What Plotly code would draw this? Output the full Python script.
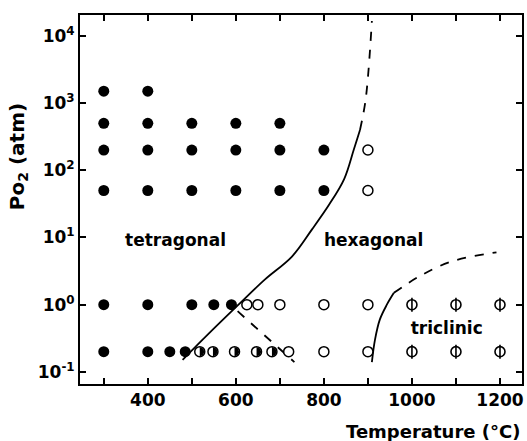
import math
import plotly.graph_objects as go

# ---- data ----
filled_T = [300, 300, 300, 300, 300, 300,
            400, 400, 400, 400, 400, 400,
            500, 500, 500, 500,
            600, 600, 600,
            700, 700, 700,
            800, 800,
            550, 590,
            450, 485]
filled_P = [1500, 500, 200, 50, 1, 0.2,
            1500, 500, 200, 50, 1, 0.2,
            500, 200, 50, 1,
            500, 200, 50,
            500, 200, 50,
            200, 50,
            1, 1,
            0.2, 0.2]

open_T = [900, 900, 625, 650, 700, 800, 900, 720, 800, 900]
open_P = [200, 50, 1, 1, 1, 1, 1, 0.2, 0.2, 0.2]

half_T = [518, 548, 597, 647, 682]
half_P = [0.2, 0.2, 0.2, 0.2, 0.2]

phi_T = [1000, 1100, 1200, 1000, 1100, 1200]
phi_P = [1, 1, 1, 0.2, 0.2, 0.2]

# boundary tetragonal/hexagonal (solid)
b1_T = [479, 540, 606, 665, 728, 773, 812, 846, 868, 882]
b1_P = [0.151, 0.38, 1.0, 2.34, 5.25, 13.2, 30.9, 74, 204, 398]
# its dashed continuation
b1d_T = [882, 895, 909]
b1d_P = [398, 1150, 16600]
# dashed tetragonal boundary going down
b2_T = [604, 733]
b2_P = [0.8, 0.14]
# triclinic boundary solid
b3_T = [909, 916, 927, 943, 959]
b3_P = [0.14, 0.30, 0.60, 1.0, 1.5]
# triclinic dashed
b3d_T = [959, 1015, 1090, 1192]
b3d_P = [1.5, 2.6, 4.4, 6.0]

labels = ["tetragonal", "hexagonal", "triclinic"]
label_T = [463, 913, 1079]
label_P = [8.5, 8.7, 0.43]

x_ticks = [300, 400, 500, 600, 700, 800, 900, 1000, 1100, 1200]
x_ticktext = ["", "400", "", "600", "", "800", "", "1000", "", "1200"]
y_ticks = [0.1, 1, 10, 100, 1000, 10000]
y_ticktext = ["10<sup>-1</sup>", "10<sup>0</sup>", "10<sup>1</sup>",
              "10<sup>2</sup>", "10<sup>3</sup>", "10<sup>4</sup>"]

FONT = "DejaVu Sans"
W, H = 527, 441
M = dict(l=80, r=3, t=15, b=57)
X_RANGE = [246, 1250]
Y_RANGE = [-1.18, 4.31]

fig = go.Figure()

fig.add_trace(go.Scatter(x=b1_T, y=b1_P, mode="lines", line=dict(color="black", width=1.8, shape="spline")))
fig.add_trace(go.Scatter(x=b1d_T, y=b1d_P, mode="lines", line=dict(color="black", width=1.8, dash="dash", shape="spline")))
fig.add_trace(go.Scatter(x=b2_T, y=b2_P, mode="lines", line=dict(color="black", width=1.8, dash="dash")))
fig.add_trace(go.Scatter(x=b3_T, y=b3_P, mode="lines", line=dict(color="black", width=1.8, shape="spline")))
fig.add_trace(go.Scatter(x=b3d_T, y=b3d_P, mode="lines", line=dict(color="black", width=1.8, dash="dash", shape="spline")))

fig.add_trace(go.Scatter(x=filled_T, y=filled_P, mode="markers",
                         marker=dict(symbol="circle", size=11, color="black")))
fig.add_trace(go.Scatter(x=open_T, y=open_P, mode="markers",
                         marker=dict(symbol="circle", size=10, color="white", line=dict(width=1.5, color="black"))))
fig.add_trace(go.Scatter(x=phi_T, y=phi_P, mode="markers",
                         marker=dict(symbol="circle", size=10, color="white", line=dict(width=1.6, color="black"))))
fig.add_trace(go.Scatter(x=phi_T, y=phi_P, mode="markers",
                         marker=dict(symbol="line-ns-open", size=10, color="black", line=dict(width=1.6))))
fig.add_trace(go.Scatter(x=half_T, y=half_P, mode="markers",
                         marker=dict(symbol="circle", size=10, color="white", line=dict(width=1.5, color="black"))))

# right-half filled semicircles around each half marker (radius given in pixels)
px_per_T = (W - M["l"] - M["r"]) / (X_RANGE[1] - X_RANGE[0])
px_per_dec = (H - M["t"] - M["b"]) / (Y_RANGE[1] - Y_RANGE[0])
r_px = 4.6
hx, hy = [], []
for t, p in zip(half_T, half_P):
    for i in range(21):
        a = -math.pi / 2 + math.pi * i / 20
        hx.append(t + r_px * math.cos(a) / px_per_T)
        hy.append(10 ** (math.log10(p) + r_px * math.sin(a) / px_per_dec))
    hx.append(None)
    hy.append(None)
fig.add_trace(go.Scatter(x=hx, y=hy, mode="lines", fill="toself", fillcolor="black",
                         line=dict(width=0, color="black"), hoverinfo="skip"))

fig.add_trace(go.Scatter(x=label_T, y=label_P, mode="text", text=labels,
                         textposition="middle center",
                         textfont=dict(family=FONT, size=17, color="black", weight="bold")))

axis_common = dict(showline=True, linewidth=2, linecolor="black", mirror="ticks",
                   ticks="inside", ticklen=6, tickwidth=1.5, tickcolor="black",
                   showgrid=False, zeroline=False,
                   tickfont=dict(family=FONT, size=17, color="black", weight="bold"))

fig.update_xaxes(range=X_RANGE, tickvals=x_ticks, ticktext=x_ticktext, **axis_common)
fig.update_yaxes(type="log", range=Y_RANGE, tickvals=y_ticks, ticktext=y_ticktext, **axis_common)

fig.add_annotation(text="Temperature (°C)", xref="paper", yref="paper", x=1.0, y=-0.13,
                   xanchor="right", yanchor="middle", showarrow=False,
                   font=dict(family=FONT, size=18, color="black", weight="bold"))
fig.add_annotation(text="Po<sub>2</sub> (atm)", xref="paper", yref="paper", x=-0.14, y=0.615,
                   xanchor="center", yanchor="middle", textangle=-90, showarrow=False,
                   font=dict(family=FONT, size=20, color="black", weight="bold"))

fig.update_layout(width=W, height=H, margin=M,
                  plot_bgcolor="white", paper_bgcolor="white", showlegend=False)

fig.write_html("out.html")
